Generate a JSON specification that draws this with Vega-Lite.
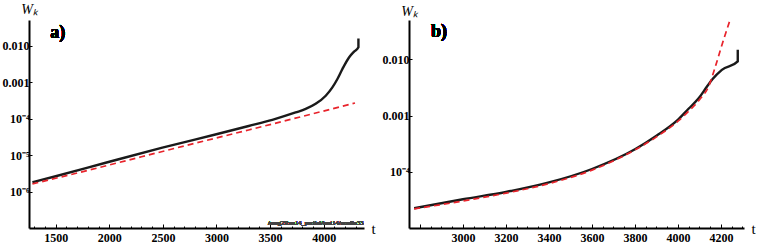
{
  "$schema": "https://vega.github.io/schema/vega-lite/v6.json",
  "padding": {"left": 2, "top": 2, "right": 0, "bottom": 0},
  "background": "white",
  "config": {
    "view": {"stroke": null},
    "axis": {
      "grid": false,
      "domainColor": "#000",
      "domainWidth": 2,
      "tickColor": "#000",
      "tickWidth": 1,
      "labelFont": "Liberation Serif, Times New Roman, serif",
      "labelFontWeight": "bold",
      "labelFontSize": 12,
      "labelColor": "#000",
      "titleFont": "Liberation Serif, Times New Roman, serif",
      "titleFontWeight": "normal",
      "titleColor": "#000"
    }
  },
  "datasets": {
    "curves": [
      {"panel": "a", "series": "black", "i": 1, "t": 1283, "w": 1.8e-6},
      {"panel": "a", "series": "black", "i": 2, "t": 1500, "w": 2.63e-6},
      {"panel": "a", "series": "black", "i": 3, "t": 1966, "w": 6.17e-6},
      {"panel": "a", "series": "black", "i": 4, "t": 2495, "w": 1.6e-5},
      {"panel": "a", "series": "black", "i": 5, "t": 3008, "w": 3.8e-5},
      {"panel": "a", "series": "black", "i": 6, "t": 3300, "w": 6.3e-5},
      {"panel": "a", "series": "black", "i": 7, "t": 3521, "w": 9.3e-5},
      {"panel": "a", "series": "black", "i": 8, "t": 3738, "w": 1.48e-4},
      {"panel": "a", "series": "black", "i": 9, "t": 3832, "w": 1.85e-4},
      {"panel": "a", "series": "black", "i": 10, "t": 3925, "w": 2.55e-4},
      {"panel": "a", "series": "black", "i": 11, "t": 4019, "w": 4.27e-4},
      {"panel": "a", "series": "black", "i": 12, "t": 4081, "w": 7.24e-4},
      {"panel": "a", "series": "black", "i": 13, "t": 4128, "w": 1.23e-3},
      {"panel": "a", "series": "black", "i": 14, "t": 4174, "w": 2.29e-3},
      {"panel": "a", "series": "black", "i": 15, "t": 4236, "w": 4.79e-3},
      {"panel": "a", "series": "black", "i": 16, "t": 4283, "w": 6.9e-3},
      {"panel": "a", "series": "black", "i": 17, "t": 4324, "w": 9.1e-3},
      {"panel": "a", "series": "black", "i": 18, "t": 4324, "w": 0.0159},
      {"panel": "a", "series": "red", "i": 1, "t": 1283, "w": 1.62e-6},
      {"panel": "a", "series": "red", "i": 2, "t": 1800, "w": 3.8e-6},
      {"panel": "a", "series": "red", "i": 3, "t": 2300, "w": 9.0e-6},
      {"panel": "a", "series": "red", "i": 4, "t": 2800, "w": 2.12e-5},
      {"panel": "a", "series": "red", "i": 5, "t": 3300, "w": 4.9e-5},
      {"panel": "a", "series": "red", "i": 6, "t": 3800, "w": 1.15e-4},
      {"panel": "a", "series": "red", "i": 7, "t": 4292, "w": 2.69e-4},
      {"panel": "b", "series": "black", "i": 1, "t": 2773, "w": 2.24e-5},
      {"panel": "b", "series": "black", "i": 2, "t": 3000, "w": 3.24e-5},
      {"panel": "b", "series": "black", "i": 3, "t": 3200, "w": 4.37e-5},
      {"panel": "b", "series": "black", "i": 4, "t": 3400, "w": 6.46e-5},
      {"panel": "b", "series": "black", "i": 5, "t": 3600, "w": 1.12e-4},
      {"panel": "b", "series": "black", "i": 6, "t": 3800, "w": 2.51e-4},
      {"panel": "b", "series": "black", "i": 7, "t": 3900, "w": 4.37e-4},
      {"panel": "b", "series": "black", "i": 8, "t": 3995, "w": 8.1e-4},
      {"panel": "b", "series": "black", "i": 9, "t": 4049, "w": 1.32e-3},
      {"panel": "b", "series": "black", "i": 10, "t": 4095, "w": 2.0e-3},
      {"panel": "b", "series": "black", "i": 11, "t": 4134, "w": 3.24e-3},
      {"panel": "b", "series": "black", "i": 12, "t": 4160, "w": 4.4e-3},
      {"panel": "b", "series": "black", "i": 13, "t": 4204, "w": 6.5e-3},
      {"panel": "b", "series": "black", "i": 14, "t": 4278, "w": 9.2e-3},
      {"panel": "b", "series": "black", "i": 15, "t": 4278, "w": 0.0148},
      {"panel": "b", "series": "red", "i": 1, "t": 2773, "w": 2.19e-5},
      {"panel": "b", "series": "red", "i": 2, "t": 3000, "w": 3.02e-5},
      {"panel": "b", "series": "red", "i": 3, "t": 3200, "w": 4.17e-5},
      {"panel": "b", "series": "red", "i": 4, "t": 3400, "w": 6.17e-5},
      {"panel": "b", "series": "red", "i": 5, "t": 3600, "w": 1.07e-4},
      {"panel": "b", "series": "red", "i": 6, "t": 3800, "w": 2.45e-4},
      {"panel": "b", "series": "red", "i": 7, "t": 3900, "w": 4.17e-4},
      {"panel": "b", "series": "red", "i": 8, "t": 4000, "w": 7.94e-4},
      {"panel": "b", "series": "red", "i": 9, "t": 4050, "w": 1.2e-3},
      {"panel": "b", "series": "red", "i": 10, "t": 4100, "w": 1.91e-3},
      {"panel": "b", "series": "red", "i": 11, "t": 4145, "w": 3.47e-3},
      {"panel": "b", "series": "red", "i": 12, "t": 4173, "w": 7.24e-3},
      {"panel": "b", "series": "red", "i": 13, "t": 4204, "w": 0.0178},
      {"panel": "b", "series": "red", "i": 14, "t": 4242, "w": 0.05}
    ]
  },
  "hconcat": [
    {
      "width": 335,
      "height": 208,
      "data": {"name": "curves"},
      "transform": [{"filter": "datum.panel === 'a'"}],
      "encoding": {
        "x": {
          "field": "t", "type": "quantitative",
          "scale": {"domain": [1251, 4376], "nice": false, "zero": false},
          "axis": {
            "title": "t", "titleAngle": 0, "titleX": 344, "titleY": 0,
            "titleAlign": "center", "titleBaseline": "middle", "titleFontSize": 15,
            "values": [1300,1400,1500,1600,1700,1800,1900,2000,2100,2200,2300,2400,2500,2600,2700,2800,2900,3000,3100,3200,3300,3400,3500,3600,3700,3800,3900,4000,4100,4200,4300],
            "labelExpr": "datum.value % 500 === 0 ? format(datum.value, 'd') : ''",
            "tickSize": {"condition": {"test": "datum.value % 500 === 0", "value": -4}, "value": -2},
            "labelPadding": 8,
            "labelFlush": false
          }
        },
        "y": {
          "field": "w", "type": "quantitative",
          "scale": {"type": "log", "domain": [1e-7, 0.051], "nice": false},
          "axis": {
            "title": "Wₖ", "titleAngle": 0, "titleX": 0, "titleY": -11,
            "titleAlign": "center", "titleBaseline": "middle", "titleFontSize": 14, "titleFontStyle": "italic",
            "values": [1e-6, 1e-5, 1e-4, 0.001, 0.01],
            "labelExpr": "datum.value > 0.0005 ? format(datum.value, '.3f') : datum.value > 0.00005 ? '10⁻⁴' : datum.value > 0.000005 ? '10⁻⁵' : '10⁻⁶'",
            "tickSize": -3,
            "labelPadding": 3,
            "labelFlush": false
          }
        },
        "order": {"field": "i", "type": "quantitative"}
      },
      "layer": [
        {
          "transform": [{"filter": "datum.series === 'black'"}],
          "mark": {"type": "line", "color": "#1a1a1a", "strokeWidth": 2.4, "interpolate": "monotone", "clip": true}
        },
        {
          "transform": [{"filter": "datum.series === 'red'"}],
          "mark": {"type": "line", "color": "#e8232b", "strokeWidth": 1.7, "strokeDash": [6, 4], "clip": true}
        },
        {
          "mark": {"type": "text", "font": "Liberation Serif, Times New Roman, serif", "fontWeight": "bold", "fontSize": 18, "align": "left", "baseline": "middle", "color": "#000"},
          "encoding": {"x": {"datum": 1450}, "y": {"datum": 0.0224}, "text": {"value": "a)"}, "order": {"value": 0}}
        },
        {
          "mark": {"type": "text", "font": "Liberation Serif, Times New Roman, serif", "fontSize": 6.5, "align": "right", "baseline": "bottom", "color": "#444"},
          "encoding": {"x": {"datum": 4372}, "y": {"datum": 1.15e-7}, "text": {"value": "/meg2Run14_partial/test14/nonlin33"}, "order": {"value": 0}}
        }
      ]
    },
    {
      "width": 335,
      "height": 208,
      "data": {"name": "curves"},
      "transform": [{"filter": "datum.panel === 'b'"}],
      "encoding": {
        "x": {
          "field": "t", "type": "quantitative",
          "scale": {"domain": [2749, 4307], "nice": false, "zero": false},
          "axis": {
            "title": "t", "titleAngle": 0, "titleX": 344, "titleY": 0,
            "titleAlign": "center", "titleBaseline": "middle", "titleFontSize": 15,
            "values": [2800,2850,2900,2950,3000,3050,3100,3150,3200,3250,3300,3350,3400,3450,3500,3550,3600,3650,3700,3750,3800,3850,3900,3950,4000,4050,4100,4150,4200,4250,4300],
            "labelExpr": "datum.value % 200 === 0 && datum.value >= 3000 ? format(datum.value, 'd') : ''",
            "tickSize": {"condition": {"test": "datum.value % 200 === 0", "value": -4}, "value": -2},
            "labelPadding": 8,
            "labelFlush": false
          }
        },
        "y": {
          "field": "w", "type": "quantitative",
          "scale": {"type": "log", "domain": [1e-5, 0.05], "nice": false},
          "axis": {
            "title": "Wₖ", "titleAngle": 0, "titleX": 0, "titleY": -9,
            "titleAlign": "center", "titleBaseline": "middle", "titleFontSize": 14, "titleFontStyle": "italic",
            "values": [1e-4, 0.001, 0.01],
            "labelExpr": "datum.value > 0.0005 ? format(datum.value, '.3f') : '10⁻⁴'",
            "tickSize": -3,
            "labelPadding": 3,
            "labelFlush": false
          }
        },
        "order": {"field": "i", "type": "quantitative"}
      },
      "layer": [
        {
          "transform": [{"filter": "datum.series === 'black'"}],
          "mark": {"type": "line", "color": "#1a1a1a", "strokeWidth": 2.4, "interpolate": "monotone", "clip": true}
        },
        {
          "transform": [{"filter": "datum.series === 'red'"}],
          "mark": {"type": "line", "color": "#e8232b", "strokeWidth": 1.7, "strokeDash": [6, 4], "interpolate": "monotone", "clip": true}
        },
        {
          "mark": {"type": "text", "font": "Liberation Serif, Times New Roman, serif", "fontWeight": "bold", "fontSize": 18, "align": "left", "baseline": "middle", "color": "#000"},
          "encoding": {"x": {"datum": 2851}, "y": {"datum": 0.03}, "text": {"value": "b)"}, "order": {"value": 0}}
        }
      ]
    }
  ],
  "spacing": 45,
  "bounds": "flush"
}
